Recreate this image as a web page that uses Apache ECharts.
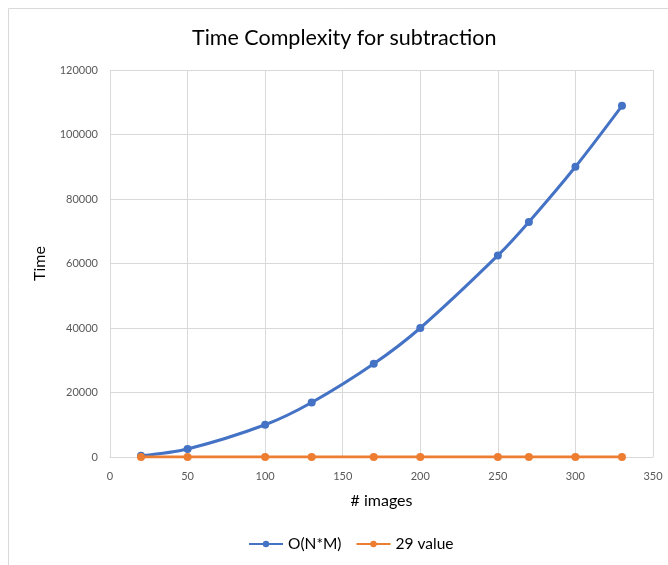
<!DOCTYPE html>
<html><head><meta charset="utf-8">
<script src="https://cdn.jsdelivr.net/npm/echarts@6/dist/echarts.min.js"></script>
<style>html,body{margin:0;padding:0;background:#fff}#c{width:668px;height:565px}</style>
</head><body><div id="c"></div>
<script>
const xValues = [20, 50, 100, 130, 170, 200, 250, 270, 300, 330];
const onmValues = [400, 2500, 10000, 16900, 28900, 40000, 62500, 72900, 90000, 108900];
const constValues = [29, 29, 29, 29, 29, 29, 29, 29, 29, 29];
const seriesNames = ['O(N*M)', '29 value'];

const chart = echarts.init(document.getElementById('c'));
const font = 'Lato, "Open Sans", sans-serif';
chart.setOption({
  animation: false,
  textStyle: {fontFamily: font},
  graphic: [{type: 'rect', shape: {x: 8.5, y: 8.5, width: 680, height: 600}, style: {fill: 'none', stroke: '#d9d9d9', lineWidth: 1}, silent: true}],
  title: {text: 'Time Complexity for subtraction', left: 187, top: 22,
    textStyle: {fontFamily: font, fontSize: 21.5, fontWeight: 'normal', color: '#000'}},
  legend: {bottom: 8, left: 243, itemWidth: 34, itemHeight: 8, itemGap: 14,
    textStyle: {fontFamily: font, fontSize: 15.5, color: '#000'},
    data: seriesNames},
  grid: {left: 110, right: 15, top: 70, bottom: 108},
  xAxis: {type: 'value', min: 0, max: 350, interval: 50,
    name: '# images', nameLocation: 'middle', nameGap: 36,
    nameTextStyle: {fontFamily: font, fontSize: 16, color: '#000'},
    axisLine: {show: true, lineStyle: {color: '#d9d9d9'}},
    axisTick: {show: false},
    axisLabel: {color: '#595959', fontSize: 11, fontFamily: font, margin: 14},
    splitLine: {show: true, lineStyle: {color: '#d9d9d9', width: 1}}},
  yAxis: {type: 'value', min: 0, max: 120000, interval: 20000,
    name: 'Time', nameLocation: 'middle', nameGap: 62,
    nameTextStyle: {fontFamily: font, fontSize: 16, color: '#000'},
    axisLine: {show: false}, axisTick: {show: false},
    axisLabel: {color: '#595959', fontSize: 11, fontFamily: font, margin: 12,
      formatter: v => String(v)},
    splitLine: {show: true, lineStyle: {color: '#d9d9d9', width: 1}}},
  series: [
    {name: seriesNames[0], type: 'line', smooth: 0.3,
      data: xValues.map((x, i) => [x, onmValues[i]]),
      symbol: 'circle', symbolSize: 8,
      lineStyle: {color: '#4472C4', width: 3}, itemStyle: {color: '#4472C4'}},
    {name: seriesNames[1], type: 'line',
      data: xValues.map((x, i) => [x, constValues[i]]),
      symbol: 'circle', symbolSize: 8,
      lineStyle: {color: '#ED7D31', width: 3}, itemStyle: {color: '#ED7D31'}}
  ]
});
</script></body></html>
